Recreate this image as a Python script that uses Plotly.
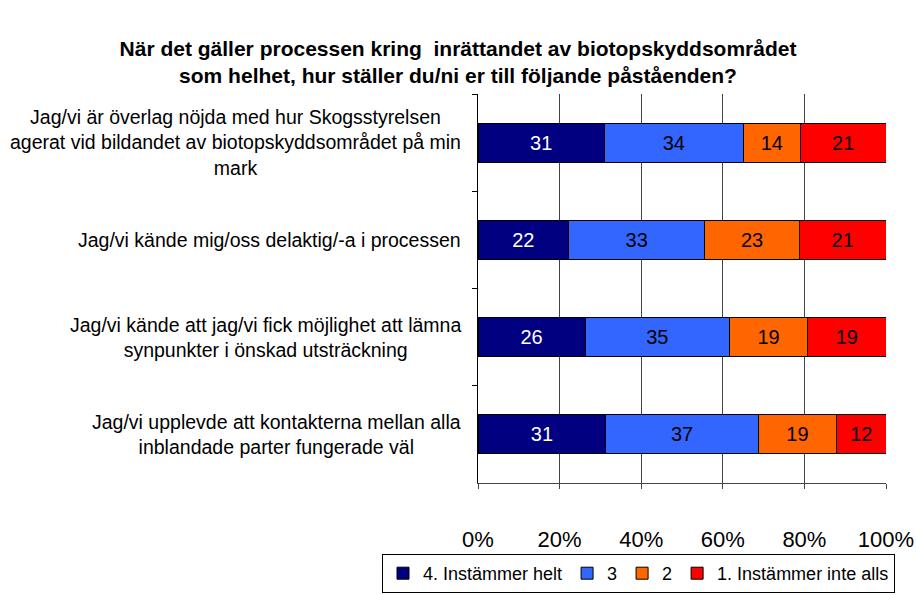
import plotly.graph_objects as go

title_lines = ["När det gäller processen kring  inrättandet av biotopskyddsområdet",
               "som helhet, hur ställer du/ni er till följande påståenden?"]

categories = [
    "Jag/vi är överlag nöjda med hur Skogsstyrelsen<br>agerat vid bildandet av biotopskyddsområdet på min<br>mark",
    "Jag/vi kände mig/oss delaktig/-a i processen",
    "Jag/vi kände att jag/vi fick möjlighet att lämna<br>synpunkter i önskad utsträckning",
    "Jag/vi upplevde att kontakterna mellan alla<br>inblandade parter fungerade väl",
]
cat_ids = ["q1", "q2", "q3", "q4"]

series_names = ["4. Instämmer helt", "3", "2", "1. Instämmer inte alls"]
series_values = [
    [31, 22, 26, 31],
    [34, 33, 35, 37],
    [14, 23, 19, 19],
    [21, 21, 19, 12],
]
series_colors = ["#000080", "#3366FF", "#FF6600", "#FF0000"]
text_colors = ["white", "black", "black", "black"]

tick_vals = [0, 20, 40, 60, 80, 100]
tick_text = ["0%", "20%", "40%", "60%", "80%", "100%"]

FONT = "Liberation Sans, Arial, sans-serif"

fig = go.Figure()
for name, vals, col, tcol in zip(series_names, series_values, series_colors, text_colors):
    fig.add_trace(go.Bar(
        name=name, y=cat_ids, x=vals, orientation="h",
        marker=dict(color=col, line=dict(color="black", width=1)),
        text=[str(v) for v in vals], textposition="inside",
        insidetextanchor="middle", constraintext="none",
        textfont=dict(color=tcol, size=20, family=FONT),
        width=0.4, hoverinfo="skip",
    ))

for cid, label in zip(cat_ids, categories):
    fig.add_annotation(
        x=-0.0368, xref="paper", y=cid, yref="y", text=label,
        xanchor="right", align="center", showarrow=False,
        font=dict(size=19.5, family=FONT, color="black"),
    )

fig.update_layout(
    width=916, height=595,
    barmode="stack", barnorm="percent",
    plot_bgcolor="white", paper_bgcolor="white",
    margin=dict(l=478, r=30, t=94, b=112, autoexpand=False),
    font=dict(family=FONT, color="black"),
    title=dict(text="<b>" + "<br>".join(title_lines) + "</b>",
               x=0.5, xanchor="center", y=1 - 56 / 595, yanchor="top",
               font=dict(size=21, family=FONT, color="black")),
    showlegend=True,
    legend=dict(orientation="h", xref="paper", yref="paper",
                x=(382 - 478) / 408, xanchor="left",
                y=(483 - 593) / 389, yanchor="bottom",
                bordercolor="black", borderwidth=1, bgcolor="white",
                font=dict(size=18, family=FONT), traceorder="normal",
                itemwidth=30, tracegroupgap=0),
    bargap=0.6,
)
fig.update_xaxes(
    range=[0, 100], tickvals=tick_vals, ticktext=tick_text,
    showgrid=True, gridcolor="#444444", gridwidth=1,
    showline=True, linecolor="#444444", linewidth=1,
    ticks="outside", ticklen=5, tickcolor="#444444",
    tickfont=dict(size=22, family=FONT), ticklabelstandoff=32,
    zeroline=False, fixedrange=True, automargin=False,
)
fig.update_yaxes(
    categoryorder="array", categoryarray=cat_ids, range=[3.5, -0.5],
    showticklabels=False, ticks="outside", ticklen=5, tickcolor="black",
    tickson="boundaries", showline=True, linecolor="black", linewidth=1,
    showgrid=False, zeroline=False, fixedrange=True, automargin=False,
)

fig.write_html("out.html", config={"displayModeBar": False},
               post_script="document.body.style.margin='0';")
